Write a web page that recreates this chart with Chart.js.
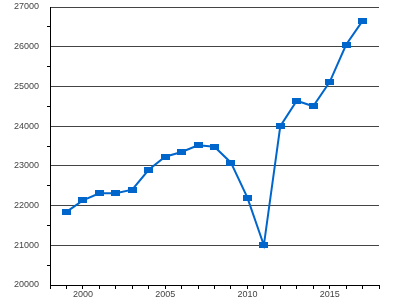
<!DOCTYPE html>
<html>
<head>
<meta charset="utf-8">
<script src="https://cdn.jsdelivr.net/npm/chart.js@4/dist/chart.umd.min.js"></script>
<style>
  body { margin: 0; background: #fff; }
</style>
</head>
<body>
<canvas id="lineChart" width="400" height="300"></canvas>
<script>
var years = [1999, 2000, 2001, 2002, 2003, 2004, 2005, 2006, 2007, 2008, 2009, 2010, 2011, 2012, 2013, 2014, 2015, 2016, 2017];
var values = [21840, 22130, 22310, 22310, 22400, 22900, 23230, 23350, 23520, 23480, 23080, 22200, 21000, 24000, 24640, 24500, 25110, 26050, 26650];

// rectangular marker, a bit wider than tall
var marker = document.createElement('canvas');
marker.width = 9;
marker.height = 6;
var mctx = marker.getContext('2d');
mctx.fillStyle = '#0066cc';
mctx.fillRect(0, 0, 9, 6);

var points = years.map(function(y, i) {
    return { x: y, y: values[i] };
});

var ctx = document.getElementById('lineChart').getContext('2d');
new Chart(ctx, {
    type: 'line',
    data: {
        datasets: [
            {
                data: points,
                borderColor: '#0066cc',
                borderWidth: 2,
                pointStyle: marker,
                pointRadius: 5,
                tension: 0
            }
        ]
    },
    options: {
        responsive: false,
        animation: false,
        layout: { padding: { top: 6, right: 21, left: 0, bottom: 0 } },
        plugins: {
            legend: { display: false },
            tooltip: { enabled: false }
        },
        scales: {
            x: {
                type: 'linear',
                min: 1998,
                max: 2018,
                afterFit: function(scale) {
                    scale.height = 15;
                    scale.paddingLeft = 0;
                    scale.paddingRight = 0;
                },
                border: { color: '#000', width: 1 },
                grid: {
                    drawOnChartArea: false,
                    tickLength: 4,
                    tickColor: '#000'
                },
                ticks: {
                    stepSize: 1,
                    autoSkip: false,
                    maxRotation: 0,
                    padding: 0,
                    color: '#444',
                    font: { family: 'Liberation Sans', size: 9 },
                    callback: function(v) { return v % 5 === 0 ? String(v) : ''; }
                }
            },
            y: {
                min: 20000,
                max: 27000,
                afterFit: function(scale) {
                    scale.width = 50;
                    scale.paddingTop = 0;
                    scale.paddingBottom = 0;
                },
                border: { color: '#000', width: 1 },
                grid: {
                    color: function(c) { return c.tick && c.tick.value % 1000 === 0 ? '#444' : 'rgba(0,0,0,0)'; },
                    tickColor: function(c) { return c.tick && c.tick.value % 1000 === 0 ? 'rgba(0,0,0,0)' : '#000'; },
                    tickLength: 3
                },
                ticks: {
                    stepSize: 500,
                    autoSkip: false,
                    padding: 8,
                    color: '#444',
                    font: { family: 'Liberation Sans', size: 9 },
                    callback: function(v) { return v % 1000 === 0 ? String(v) : ''; }
                }
            }
        }
    }
});
</script>
</body>
</html>
